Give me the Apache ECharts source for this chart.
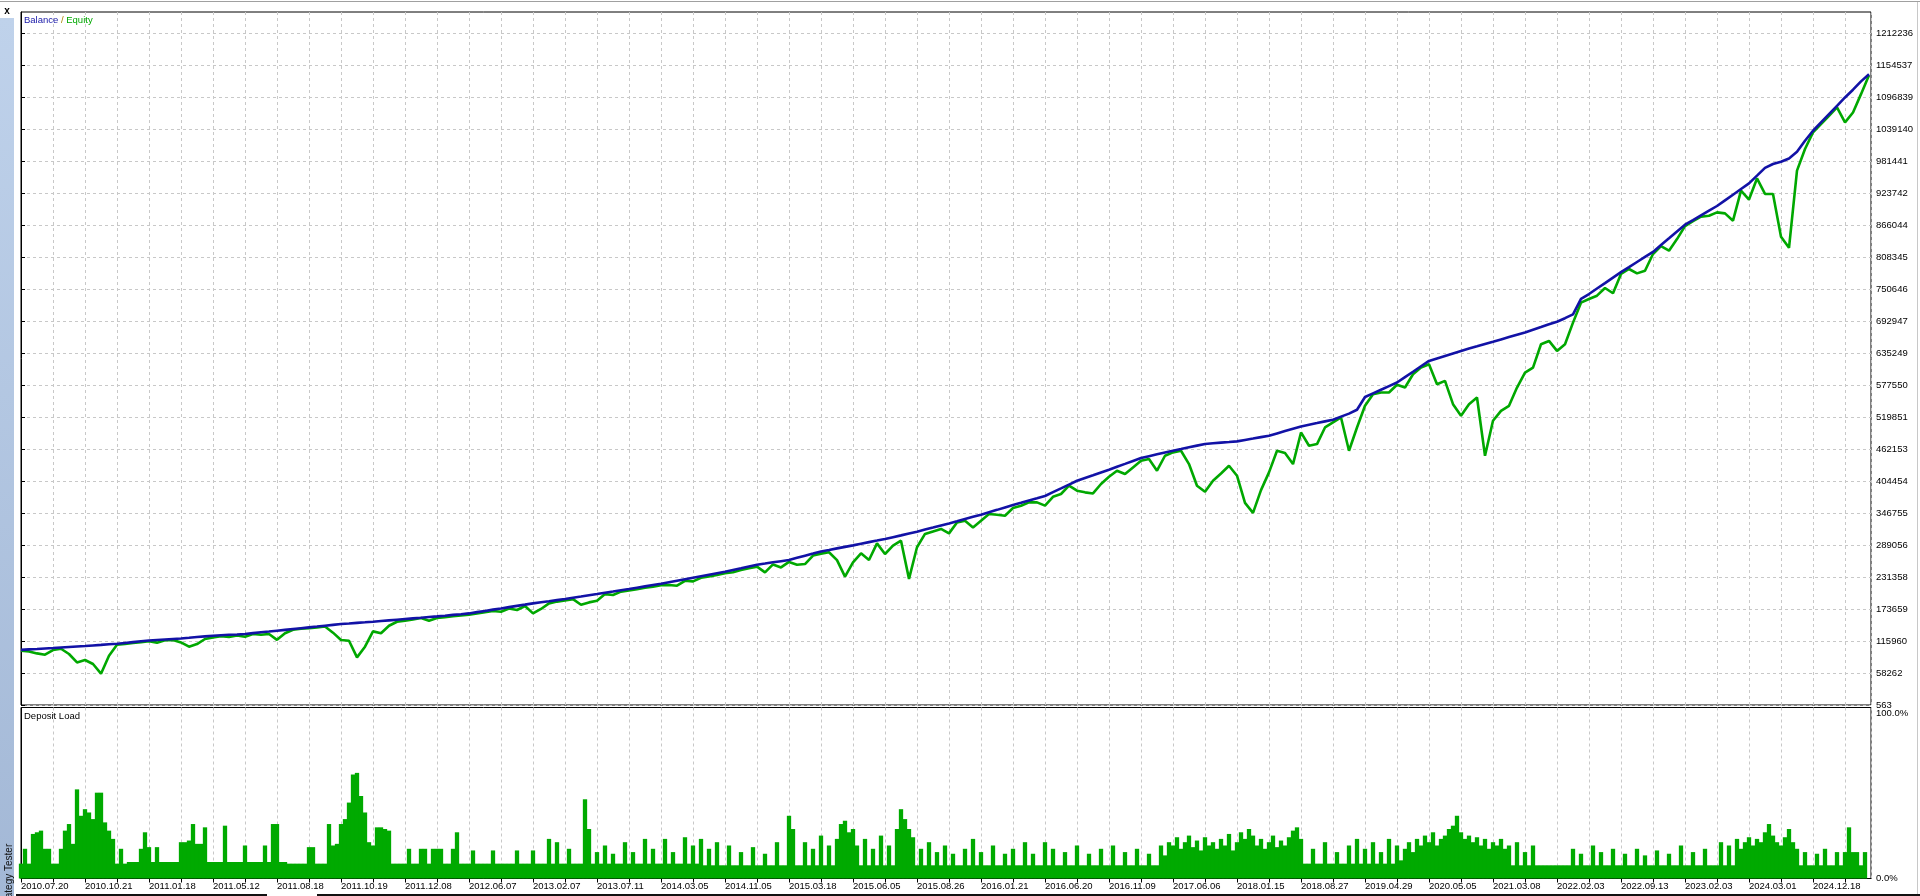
<!DOCTYPE html>
<html><head><meta charset="utf-8">
<script src="https://cdn.jsdelivr.net/npm/echarts@6/dist/echarts.min.js"></script>
<style>html,body{margin:0;padding:0;background:#fff;overflow:hidden}#c{width:1920px;height:896px}</style>
</head><body><div id="c"></div>
<script>
// ---- data ----
const dateLabels = ['2010.07.20','2010.10.21','2011.01.18','2011.05.12','2011.08.18','2011.10.19','2011.12.08','2012.06.07','2013.02.07','2013.07.11','2014.03.05','2014.11.05','2015.03.18','2015.06.05','2015.08.26','2016.01.21','2016.06.20','2016.11.09','2017.06.06','2018.01.15','2018.08.27','2019.04.29','2020.05.05','2021.03.08','2022.02.03','2022.09.13','2023.02.03','2024.03.01','2024.12.18'];
const yTickLabels = [563,58262,115960,173659,231358,289056,346755,404454,462153,519851,577550,635249,692947,750646,808345,866044,923742,981441,1039140,1096839,1154537,1212236];
const loadTickLabels = [0,100];
// balance / equity in thousands, one value per trade-step
const balance = [
100,100.8,101.6,102.5,103.3,104.2,105.1,106,106.9,107.9,
108.9,110,111,112.5,114,115.5,117,117.9,118.8,119.7,
120.6,121.8,123.1,124.3,125.5,126.3,127.1,127.8,128.6,130.1,
131.6,133,134.5,136,137.5,139,140.5,142,143.6,145.1,
146.6,147.6,148.7,149.7,150.8,152,153.2,154.4,155.6,156.8,
157.9,159.1,160.3,161.6,163,164.3,165.7,168,170.2,172.5,
174.7,177,179.3,181.5,183.8,185.8,187.7,189.7,191.7,194,
196.2,198.5,200.7,203,205.2,207.5,209.7,212.1,214.5,216.9,
219.3,222,224.7,227.4,230.1,232.8,235.5,238.2,240.9,244.1,
247.2,250.4,253.5,255.6,257.8,259.9,262,265.9,269.8,273.6,
277.5,280.2,283,285.7,288.4,291.3,294.2,297,299.9,303.2,
306.4,309.7,313,316.8,320.5,324.3,328,331.9,335.9,339.8,
343.7,348.1,352.4,356.8,361.2,365.2,369.3,373.3,377.4,384.3,
391.1,398,404.9,409.9,414.8,419.8,424.8,430.1,435.3,440.6,
445.9,449.2,452.5,455.8,459.1,462.1,465.2,468.2,471.2,472.4,
473.6,474.7,475.9,478.5,481,483.6,486.1,490.3,494.5,498.7,
502.9,505.9,508.9,512,515,520.5,526,533,556,562.5,
569,575.5,582,591.8,601.5,611.3,621,625.5,630,634.5,
639,643.2,647.3,651.5,655.6,659.8,664,668.2,672.4,677.2,
682,686.9,691.7,698,705,733,741.6,751.5,761.3,771.2,
781,790.1,799.3,808.4,817.5,829.8,842,854.3,866.6,875,
883.5,891.9,900.3,910.5,920.7,930.9,941.1,955,969,976,
980,986,998,1018,1036,1051,1066,1081,1096,1110,
1125,1138];
const equity = [
98.5,97.2,93.6,91.3,99.7,102,92.5,77.4,81.7,74.5,
57,89.5,109.3,110.5,112.3,113.8,115.5,113,117.3,117.8,
113.4,105.7,110.5,119.6,122.5,124.5,123.1,126,123.7,128.5,
127.3,128.6,118,130,136.3,138,139,140.5,142,131,
117.8,116.5,86.4,105.7,133.3,130,143.5,150.7,152.6,155,
157.4,152.6,157.4,159,160.5,162,163.3,165.5,168,170,
168.8,174.5,171.9,179,165.7,173.7,183.8,187,189,191.5,
181.4,185.6,188.6,200.5,198.9,205,207,209.5,212,214,
216.5,217,215.7,224.5,223.4,230,232.5,235,238,240,
244,247,250,239.6,254,248.6,258.5,253.5,254.7,270,
273.5,276,261.9,232,257.7,274,262,292,272.8,287.8,
296.8,228,285,309,313.6,318,310,329.8,332.9,320.8,
332.9,345,343.7,341.9,355.8,359.9,366,365.9,360,376,
381,396,387,384,382,399,412,423,417,429,
441,444,423,450,456,459,435,396,385,405,
418,432,414,365,347,388,420,459,455,435,
492,468,471,501,510,519,459,501,540,561,
564,564,578,573,597,609,615,579,585,543,
522,543,555,450,513,531,540,573,600,609,
651,657,639,651,690,726,732.6,738.6,752.4,743,
777.7,786.7,778.8,783.6,813.7,828,819.7,840.6,864,873,
881,882.8,888.8,887,873.8,928,912,950,922,922,
845,825,964,1003,1033,1048,1063,1078,1051,1069,
1102,1136];
// deposit load in %, two values per trade-step
const depositLoad = [
9,18,9,27,28,29,18,18,9,9,
18,29,33,21,54,38,42,40,36,52,
52,34,29,24,9,18,9,10,10,10,
18,28,19,10,19,10,10,10,10,10,
22,22,23,33,21,21,31,10,10,10,
10,32,10,10,10,10,20,10,10,10,
10,20,10,33,33,10,10,9,9,9,
9,9,19,19,9,9,9,33,20,21,
33,36,46,63,64,50,40,22,20,31,
31,30,29,9,9,9,9,18,9,9,
18,18,9,18,18,18,9,9,18,28,
9,9,9,17,9,9,9,9,17,9,
9,9,9,9,17,9,9,9,17,9,
9,9,24,9,22,9,9,18,9,9,
9,48,30,9,16,9,20,9,15,9,
9,22,9,16,9,9,24,9,18,9,
9,24,9,16,9,9,25,9,20,9,
24,8,18,8,22,8,8,20,8,8,
16,8,8,19,8,8,15,8,8,22,
8,8,38,30,8,8,22,8,18,8,
26,8,20,8,24,33,35,28,30,20,
8,24,8,18,8,26,8,20,8,30,
42,36,30,25,8,18,8,22,8,16,
8,20,8,15,8,8,18,8,24,8,
16,8,8,20,8,8,15,8,18,8,
8,22,8,15,8,8,22,8,18,8,
8,16,8,8,20,8,8,15,8,8,
18,8,8,20,8,8,16,8,8,18,
8,8,15,8,8,20,14,22,20,25,
18,22,26,19,23,17,25,20,22,18,
24,20,27,17,22,28,24,30,26,20,
24,18,22,26,19,23,20,25,29,31,
24,9,9,18,9,9,22,9,9,16,
9,9,20,9,24,9,18,9,22,9,
16,9,24,9,20,11,18,22,16,24,
20,26,22,28,20,24,26,30,32,38,
28,24,26,22,25,20,24,18,22,20,
24,18,20,8,22,8,16,8,20,8,
8,8,8,8,8,8,8,8,18,8,
15,8,8,20,8,16,8,8,18,8,
8,15,8,8,18,8,14,8,8,17,
8,8,15,8,8,20,8,8,16,8,
8,18,8,8,8,22,8,20,8,24,
18,22,25,20,24,22,28,33,26,22,
20,25,30,22,18,8,16,8,8,15,
8,18,8,8,16,8,16,31,16,16,
8,16];

// ---- chart ----
const FONT = 'Liberation Sans';
const FS = 9.5;
const yTickK = yTickLabels.map(v => v / 1000);
const X_MAX = 231.25;
const dash = {color: '#c8c8c8', type: [3, 3], width: 1};
const labelStyle = {fontFamily: FONT, fontSize: FS, color: '#000'};

const chart = echarts.init(document.getElementById('c'));
chart.setOption({
  animation: false,
  backgroundColor: '#fff',
  title: [
    {text: '{b|Balance} {s|/} {e|Equity}', left: 24, top: 14.5, padding: 0,
     textStyle: {fontFamily: FONT, fontSize: FS, fontWeight: 'normal', lineHeight: 11,
       rich: {b: {color: '#1818a8', fontFamily: FONT, fontSize: FS},
              s: {color: '#a88400', fontFamily: FONT, fontSize: FS},
              e: {color: '#00a800', fontFamily: FONT, fontSize: FS}}}},
    {text: 'Deposit Load', left: 24, top: 710.5, padding: 0,
     textStyle: {fontFamily: FONT, fontSize: FS, fontWeight: 'normal', color: '#000', lineHeight: 11}}
  ],
  grid: [
    {left: 21, top: 12, width: 1850, height: 693, show: true, borderColor: '#000', borderWidth: 1, backgroundColor: 'transparent'},
    {left: 21, top: 707.5, width: 1850, height: 171, show: true, borderColor: '#000', borderWidth: 1, backgroundColor: 'transparent'}
  ],
  xAxis: [
    {type: 'value', gridIndex: 0, min: 0, max: X_MAX, interval: 4,
     axisLine: {show: false}, axisTick: {show: false}, axisLabel: {show: false},
     splitLine: {show: true, lineStyle: dash}},
    {type: 'value', gridIndex: 1, min: 0, max: X_MAX, interval: 4,
     axisLine: {show: true, lineStyle: {color: '#000'}},
     axisTick: {show: true, length: 4, lineStyle: {color: '#000'}},
     axisLabel: Object.assign({align: 'left', margin: 3, showMaxLabel: false,
       formatter: v => (v % 8 === 0 && dateLabels[v / 8]) ? dateLabels[v / 8] : ''}, labelStyle),
     splitLine: {show: true, lineStyle: dash}}
  ],
  yAxis: [
    {type: 'value', gridIndex: 0, position: 'right', min: 0.563, max: 1250.1,
     axisLine: {show: true, lineStyle: {color: '#000'}},
     axisTick: {show: true, length: 4, customValues: yTickK, lineStyle: {color: '#000'}},
     axisLabel: Object.assign({margin: 5, customValues: yTickK,
       formatter: v => { const i = yTickK.findIndex(t => Math.abs(t - v) < 1e-6); return i >= 0 ? String(yTickLabels[i]) : ''; }}, labelStyle),
     splitLine: {show: true, lineStyle: dash}},
    {type: 'value', gridIndex: 1, position: 'right', min: 0, max: 103.6,
     axisLine: {show: true, lineStyle: {color: '#000'}},
     axisTick: {show: false, customValues: loadTickLabels},
     axisLabel: Object.assign({margin: 5, customValues: loadTickLabels,
       formatter: v => (loadTickLabels.indexOf(v) >= 0 ? v.toFixed(1) + '%' : '')}, labelStyle),
     splitLine: {show: false}}
  ],
  series: [
    {name: 'Equity', type: 'line', xAxisIndex: 0, yAxisIndex: 0, showSymbol: false, symbol: 'none',
     data: equity.map((v, i) => [i, v]), lineStyle: {color: '#00a800', width: 2.6}, itemStyle: {color: '#00a800'}, z: 2},
    {name: 'Balance', type: 'line', xAxisIndex: 0, yAxisIndex: 0, showSymbol: false, symbol: 'none',
     data: balance.map((v, i) => [i, v]), lineStyle: {color: '#1212a6', width: 2.6}, itemStyle: {color: '#1212a6'}, z: 3},
    {name: 'Deposit Load', type: 'bar', xAxisIndex: 1, yAxisIndex: 1, barWidth: 4.3,
     data: depositLoad.map((v, j) => [j / 2, v]), itemStyle: {color: '#00aa00'}}
  ],
  graphic: [
    {type: 'rect', shape: {x: 0, y: 18, width: 14, height: 878}, silent: true,
     style: {fill: new echarts.graphic.LinearGradient(0, 0, 0, 1, [{offset: 0, color: '#bfd2eb'}, {offset: 1, color: '#a3b8d6'}])}},
    {type: 'text', x: 7, y: 11.5, silent: true,
     style: {text: 'x', font: 'bold 10px ' + FONT, fill: '#000', align: 'center', verticalAlign: 'middle'}},
    {type: 'text', x: 9, y: 911, rotation: Math.PI / 2, silent: true,
     style: {text: 'Strategy Tester', font: '10px ' + FONT, fill: '#111', align: 'left', verticalAlign: 'middle'}},
    {type: 'line', shape: {x1: 0, y1: 1.5, x2: 1920, y2: 1.5}, silent: true, style: {stroke: '#a0a0a0', lineWidth: 1}},
    {type: 'line', shape: {x1: 1917.5, y1: 2, x2: 1917.5, y2: 894}, silent: true, style: {stroke: '#c8c8c8', lineWidth: 1}},
    {type: 'line', shape: {x1: 16, y1: 895, x2: 267, y2: 895}, silent: true, style: {stroke: '#111', lineWidth: 2}},
    {type: 'line', shape: {x1: 317, y1: 895, x2: 1920, y2: 895}, silent: true, style: {stroke: '#111', lineWidth: 2}}
  ]
});
</script>
</body></html>
